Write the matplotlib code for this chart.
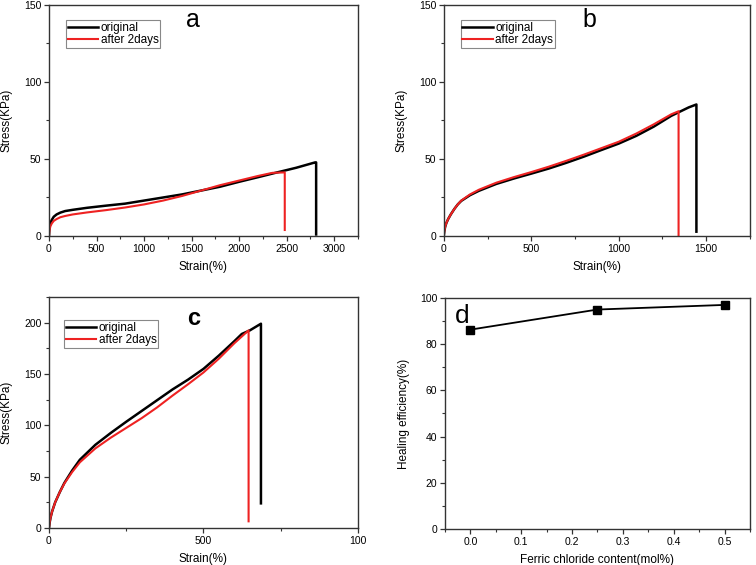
import numpy as np
import matplotlib
matplotlib.use("Agg")
from matplotlib import pyplot as plt
from matplotlib.ticker import MultipleLocator, FixedLocator, FixedFormatter, FormatStrFormatter

# panel a: strain (%) / stress (KPa)
a_orig_x = [0, 3, 8, 15, 30, 50, 80, 120, 170, 250, 400, 600, 800, 1000, 1200, 1400, 1600,
            1800, 2000, 2200, 2400, 2600, 2800, 2810, 2810]
a_orig_y = [0, 4, 6.5, 8.5, 10.5, 12.5, 14, 15.2, 16.2, 17, 18.3, 19.7, 21, 23, 25, 27, 29.5,
            32, 35.2, 38.2, 41.3, 44.3, 47.8, 47.8, 1]
a_new_x = [0, 3, 8, 15, 30, 50, 80, 120, 170, 250, 400, 600, 800, 1000, 1200, 1400, 1600,
           1800, 2000, 2200, 2350, 2480, 2480]
a_new_y = [0, 2.5, 4.5, 6.3, 8.2, 9.8, 11, 12.2, 13, 14, 15.3, 16.8, 18.5, 20.5, 23, 26, 29.5,
           33, 36, 39, 41, 41.3, 3.9]

# panel b
b_orig_x = [0, 3, 8, 15, 25, 40, 60, 80, 100, 150, 200, 300, 400, 500, 600, 700, 800, 900,
            1000, 1100, 1200, 1300, 1400, 1444, 1444]
b_orig_y = [0, 3, 6, 8.5, 11, 14, 17.5, 20.5, 22.8, 26.5, 29.3, 33.8, 37.3, 40.5, 43.8, 47.5,
            51.5, 55.8, 60, 65, 71, 78, 83.5, 85.4, 2.8]
b_new_x = [0, 3, 8, 15, 25, 40, 60, 80, 100, 150, 200, 300, 400, 500, 600, 700, 800, 900,
           1000, 1100, 1200, 1300, 1342, 1342]
b_new_y = [0, 3, 6, 8.5, 11, 14, 17.5, 20.5, 23, 27, 30, 34.6, 38.2, 41.5, 45, 48.8, 52.8,
           57, 61.2, 66.5, 72.5, 79, 81, 0.5]

# panel c
c_orig_x = [0, 2, 5, 10, 20, 35, 50, 75, 100, 150, 200, 250, 300, 350, 400, 450, 500, 550,
            600, 624, 650, 686, 686]
c_orig_y = [0, 5, 10, 16, 25, 35, 44, 56, 66.5, 81, 92.6, 103.5, 114, 124.5, 135, 144.5, 155,
            168, 182, 189, 192.5, 199, 24]
c_new_x = [0, 2, 5, 10, 20, 35, 50, 75, 100, 150, 200, 250, 300, 350, 400, 450, 500, 550,
           600, 646, 646]
c_new_y = [0, 5, 10, 16, 25, 35, 43.5, 54.5, 64, 77.5, 88, 97.5, 107, 117.5, 129, 140, 151.5,
           165, 180, 192.5, 6.5]

# panel d
d_x = [0.0, 0.25, 0.5]
d_y = [86.3, 95, 97]

spine_col = "#333333"
fs_tick = 7.5
fs_lab = 8.5

plt.rcParams["font.family"] = ["Liberation Sans", "DejaVu Sans"]
fig = plt.figure(figsize=(7.56, 5.65), dpi=100)


def style(ax):
    for s in ax.spines.values():
        s.set_color(spine_col)
        s.set_linewidth(1.0)
    ax.tick_params(which="major", direction="out", length=3.5, width=0.9, colors=spine_col,
                   labelsize=fs_tick, labelcolor="black", pad=2)
    ax.tick_params(which="minor", direction="out", length=2, width=0.8, colors=spine_col)


def leg(ax, x0, y0):
    l = ax.legend(loc="upper left", bbox_to_anchor=(x0, y0), borderaxespad=0, fontsize=8.5,
                  handlelength=2.6, handletextpad=0.2, labelspacing=0.05, borderpad=0.15,
                  fancybox=False, framealpha=1)
    l.get_frame().set_edgecolor("#888888")
    l.get_frame().set_linewidth(0.8)


# a
ax = fig.add_axes([0.0648, 0.5823, 0.4087, 0.4089])
ax.plot(a_orig_x, a_orig_y, color="black", lw=1.8, label="original")
ax.plot(a_new_x, a_new_y, color="#ee2222", lw=1.5, label="after 2days")
ax.set_xlim(0, 3250)
ax.set_ylim(0, 150)
ax.xaxis.set_major_locator(MultipleLocator(500))
ax.xaxis.set_minor_locator(MultipleLocator(250))
ax.yaxis.set_major_locator(MultipleLocator(50))
ax.yaxis.set_minor_locator(MultipleLocator(25))
style(ax)
ax.set_xlabel("Strain(%)", fontsize=fs_lab, labelpad=5)
ax.set_ylabel("Stress(KPa)", fontsize=fs_lab, labelpad=8)
ax.text(0.467, 0.935, "a", transform=ax.transAxes, fontsize=18, ha="center", va="center")
leg(ax, 0.055, 0.935)

# b
ax = fig.add_axes([0.587, 0.5823, 0.405, 0.4089])
ax.plot(b_orig_x, b_orig_y, color="black", lw=1.8, label="original")
ax.plot(b_new_x, b_new_y, color="#ee2222", lw=1.5, label="after 2days")
ax.set_xlim(0, 1750)
ax.set_ylim(0, 150)
ax.xaxis.set_major_locator(MultipleLocator(500))
ax.xaxis.set_minor_locator(MultipleLocator(250))
ax.yaxis.set_major_locator(MultipleLocator(50))
ax.yaxis.set_minor_locator(MultipleLocator(25))
style(ax)
ax.set_xlabel("Strain(%)", fontsize=fs_lab, labelpad=5)
ax.set_ylabel("Stress(KPa)", fontsize=fs_lab, labelpad=8)
ax.text(0.477, 0.935, "b", transform=ax.transAxes, fontsize=18, ha="center", va="center")
leg(ax, 0.055, 0.935)

# c
ax = fig.add_axes([0.0648, 0.0655, 0.4087, 0.4088])
ax.plot(c_orig_x, c_orig_y, color="black", lw=1.8, label="original")
ax.plot(c_new_x, c_new_y, color="#ee2222", lw=1.5, label="after 2days")
ax.set_xlim(0, 1000)
ax.set_ylim(0, 225)
ax.xaxis.set_major_locator(FixedLocator([0, 500, 1000]))
ax.xaxis.set_major_formatter(FixedFormatter(["0", "500", "100"]))
ax.xaxis.set_minor_locator(MultipleLocator(250))
ax.yaxis.set_major_locator(MultipleLocator(50))
ax.yaxis.set_minor_locator(MultipleLocator(25))
style(ax)
ax.set_xlabel("Strain(%)", fontsize=fs_lab, labelpad=5)
ax.set_ylabel("Stress(KPa)", fontsize=fs_lab, labelpad=8)
ax.text(0.467, 0.905, "c", transform=ax.transAxes, fontsize=17, fontweight="bold",
        ha="center", va="center")
leg(ax, 0.048, 0.9)

# d
ax = fig.add_axes([0.5886, 0.0637, 0.4034, 0.4089])
ax.plot(d_x, d_y, color="black", lw=1.3, marker="s", markersize=6)
ax.set_xlim(-0.05, 0.55)
ax.set_ylim(0, 100)
ax.xaxis.set_major_locator(MultipleLocator(0.1))
ax.xaxis.set_minor_locator(MultipleLocator(0.05))
ax.yaxis.set_major_locator(MultipleLocator(20))
ax.yaxis.set_minor_locator(MultipleLocator(10))
ax.xaxis.set_major_formatter(FormatStrFormatter("%.1f"))
style(ax)
ax.set_xlabel("Ferric chloride content(mol%)", fontsize=fs_lab, labelpad=5)
ax.set_ylabel("Healing efficiency(%)", fontsize=fs_lab, labelpad=7)
ax.text(0.057, 0.92, "d", transform=ax.transAxes, fontsize=19, ha="center", va="center")

fig.savefig("out.png", dpi=100)
